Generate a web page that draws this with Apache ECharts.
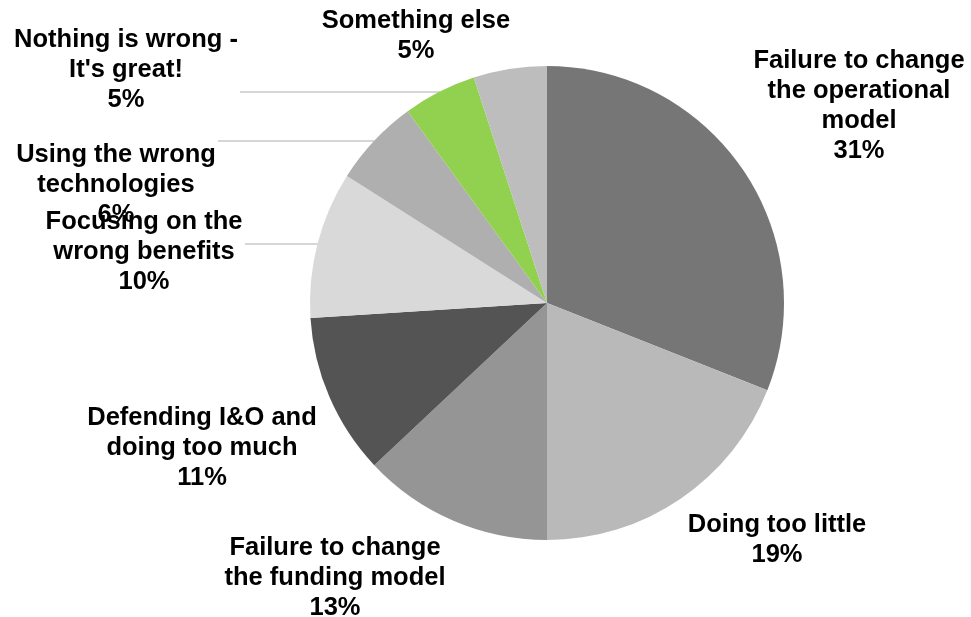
<!DOCTYPE html>
<html>
<head>
<meta charset="utf-8">
<script src="https://cdn.jsdelivr.net/npm/echarts@6/dist/echarts.min.js"></script>
<style>html,body{margin:0;padding:0;background:#fff}#chart{width:971px;height:617px}</style>
</head>
<body>
<div id="chart"></div>
<script>
// Data
const categories = [
  "Failure to change\nthe operational\nmodel",
  "Doing too little",
  "Failure to change\nthe funding model",
  "Defending I&O and\ndoing too much",
  "Focusing on the\nwrong benefits",
  "Using the wrong\ntechnologies",
  "Nothing is wrong -\nIt's great!",
  "Something else"
];
const values = [31, 19, 13, 11, 10, 6, 5, 5];
const colors = ["#767676", "#b9b9b9", "#959595", "#545454", "#d9d9d9", "#afafaf", "#92d050", "#bdbdbd"];

// Label placement (text block centres) and leader lines
const labelPos = [[859,106],[777,540],[335,578],[202,448],[144,252],[116,185],[126,70],[416,36]];
const leaderLines = {
  4: [[245,244],[281,244],[318,244]],
  5: [[218,141],[296,141],[374,141]],
  6: [[240,92],[340,92],[440,92]]
};

const chart = echarts.init(document.getElementById('chart'), null, {renderer: 'canvas'});
chart.setOption({
  animation: false,
  backgroundColor: '#ffffff',
  series: [{
    type: 'pie',
    center: [547, 303],
    radius: 237,
    startAngle: 90,
    clockwise: true,
    avoidLabelOverlap: false,
    itemStyle: { borderWidth: 0 },
    label: {
      show: true,
      position: 'outside',
      formatter: p => p.name + '\n' + p.value + '%',
      fontFamily: 'Liberation Sans, Arial, sans-serif',
      fontWeight: 'bold',
      fontSize: 25.5,
      lineHeight: 30,
      color: '#000000',
      align: 'center'
    },
    labelLine: { show: true, lineStyle: { color: '#c8c8c8', width: 1.5 } },
    labelLayout: function (params) {
      const i = params.dataIndex;
      const res = { x: labelPos[i][0], y: labelPos[i][1], align: 'center', verticalAlign: 'middle' };
      if (leaderLines[i]) res.labelLinePoints = leaderLines[i];
      return res;
    },
    data: categories.map((c, i) => ({
      name: c,
      value: values[i],
      itemStyle: { color: colors[i] },
      labelLine: { show: !!leaderLines[i] }
    }))
  }]
});
</script>
</body>
</html>
